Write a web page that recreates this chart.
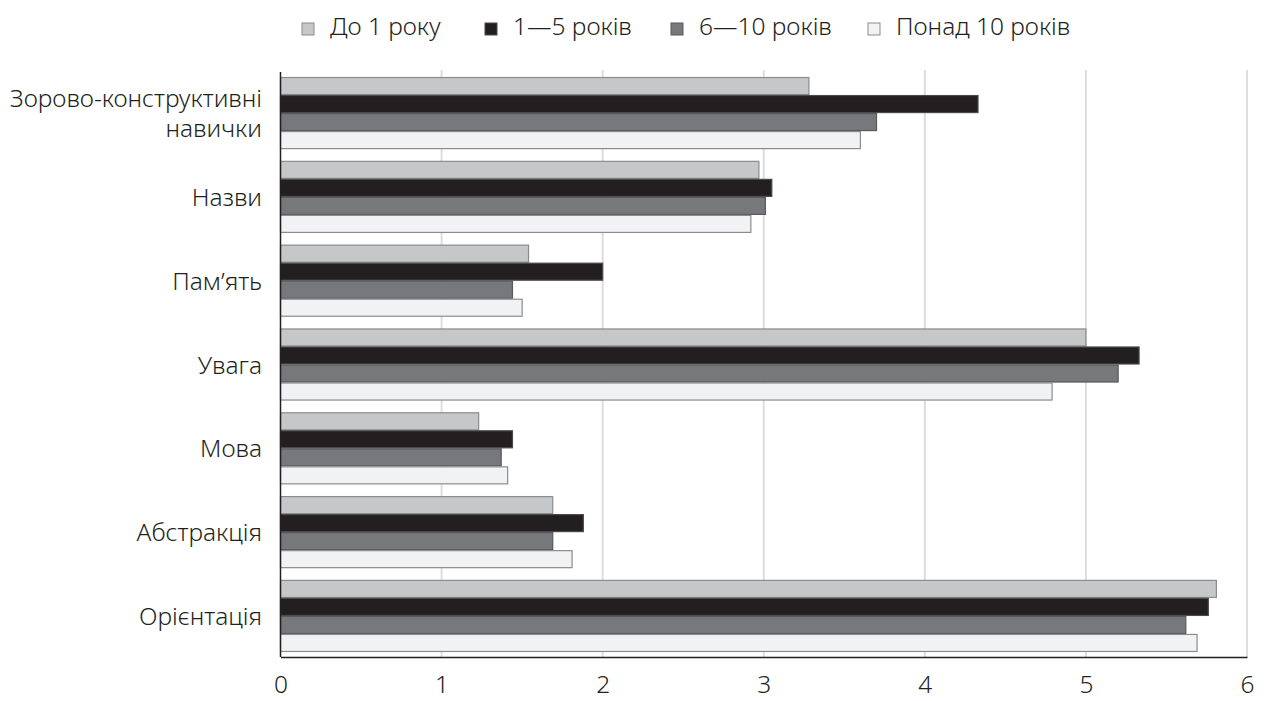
<!DOCTYPE html>
<html>
<head>
<meta charset="utf-8">
<script src="https://cdn.jsdelivr.net/npm/d3@7"></script>
<style>
  body { margin: 0; background: #fff; }
  svg { font-family: 'Noto Sans', sans-serif; }
</style>
</head>
<body>
<script>
const categories = [
  ['Зорово-конструктивні', 'навички'],
  ['Назви'],
  ['Пам\u2019ять'],
  ['Увага'],
  ['Мова'],
  ['Абстракція'],
  ['Орієнтація'],
];
const seriesNames = ['До 1 року', '1\u20145 років', '6\u201410 років', 'Понад 10 років'];
const upTo1 = [3.28, 2.97, 1.54, 5.0, 1.23, 1.69, 5.81];
const from1to5 = [4.33, 3.05, 2.0, 5.33, 1.44, 1.88, 5.76];
const from6to10 = [3.7, 3.01, 1.44, 5.2, 1.37, 1.69, 5.62];
const over10 = [3.6, 2.92, 1.5, 4.79, 1.41, 1.81, 5.69];
const xTicks = [0, 1, 2, 3, 4, 5, 6];

const series = [upTo1, from1to5, from6to10, over10];
const fills = ['#c6c7c9', '#231f20', '#77787b', '#f1f2f4'];
const strokes = ['#8b8c8e', '#4a4a4c', '#58595b', '#8b8c8e'];

const width = 1264;
const height = 701;
const fontSize = 24.5;
const margin = { left: 280.5, right: 17, top: 72, bottom: 44 };

const svg = d3
  .select('body')
  .append('svg')
  .attr('width', width)
  .attr('height', height);

const x = d3
  .scaleLinear()
  .domain([0, 6])
  .range([margin.left, width - margin.right]);

const y = d3
  .scaleBand()
  .domain(d3.range(categories.length))
  .range([margin.top, height - margin.bottom])
  .paddingInner(0.14)
  .paddingOuter(0.06);

const ySub = d3
  .scaleBand()
  .domain(d3.range(series.length))
  .range([0, y.bandwidth()]);

// gridlines
svg
  .append('g')
  .selectAll('line')
  .data(xTicks.slice(1))
  .enter()
  .append('line')
  .attr('x1', (d) => x(d))
  .attr('x2', (d) => x(d))
  .attr('y1', margin.top - 2)
  .attr('y2', height - margin.bottom)
  .attr('stroke', '#dcdddf')
  .attr('stroke-width', 2);

// bars
const groups = svg
  .append('g')
  .selectAll('g')
  .data(categories.map((c, i) => i))
  .enter()
  .append('g')
  .attr('transform', (i) => `translate(0,${y(i)})`);

groups
  .selectAll('rect')
  .data((i) => series.map((s, k) => ({ k, v: s[i] })))
  .enter()
  .append('rect')
  .attr('x', x(0))
  .attr('y', (d) => ySub(d.k) + 0.5)
  .attr('width', (d) => x(d.v) - x(0))
  .attr('height', ySub.bandwidth() - 1)
  .attr('fill', (d) => fills[d.k])
  .attr('stroke', (d) => strokes[d.k])
  .attr('stroke-width', 1.2);

// axes
const xAxis = d3
  .axisBottom(x)
  .tickValues(xTicks)
  .tickFormat(d3.format('d'))
  .tickSize(0)
  .tickPadding(19);
const gx = svg
  .append('g')
  .attr('transform', `translate(0,${height - margin.bottom})`)
  .call(xAxis);
gx.select('.domain').attr('stroke', '#231f20').attr('stroke-width', 1.5);
gx.selectAll('text')
  .attr('font-size', fontSize)
  .attr('font-family', "'Noto Sans', sans-serif")
  .attr('fill', '#231f20')
  .attr('font-weight', 300);

svg
  .append('line')
  .attr('x1', x(0))
  .attr('x2', x(0))
  .attr('y1', margin.top)
  .attr('y2', height - margin.bottom)
  .attr('stroke', '#231f20')
  .attr('stroke-width', 1.5);

// category labels
const labels = svg
  .append('g')
  .selectAll('text')
  .data(categories)
  .enter()
  .append('text')
  .attr('text-anchor', 'end')
  .attr('font-size', fontSize)
  .attr('fill', '#231f20')
  .attr('font-weight', 300)
  .attr('transform', (d, i) => `translate(262,${y(i) + y.bandwidth() / 2})`);

labels
  .selectAll('tspan')
  .data((d) => d.map((t, j) => ({ t, j, n: d.length })))
  .enter()
  .append('tspan')
  .attr('x', 0)
  .attr('y', (d) => (d.j - (d.n - 1) / 2) * 30 + 9)
  .text((d) => d.t);

// legend
const legendX = [302, 485, 671, 868];
const legend = svg
  .append('g')
  .selectAll('g')
  .data(seriesNames)
  .enter()
  .append('g')
  .attr('transform', (d, i) => `translate(${legendX[i]},23)`);

legend
  .append('rect')
  .attr('width', 12)
  .attr('height', 12)
  .attr('fill', (d, i) => fills[i])
  .attr('stroke', (d, i) => strokes[i])
  .attr('stroke-width', 1);

legend
  .append('text')
  .attr('x', 28)
  .attr('y', 12)
  .attr('font-size', fontSize)
  .attr('fill', '#231f20')
  .attr('font-weight', 300)
  .text((d) => d);
</script>
</body>
</html>
